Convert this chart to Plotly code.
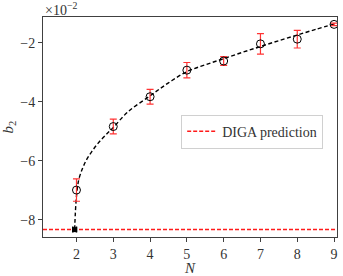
import plotly.graph_objects as go

# data (b2 in units of 1e-2)
N_vals = [2, 3, 4, 5, 6, 7, 8, 9]
b2_vals = [-6.99, -4.84, -3.83, -2.93, -2.62, -2.04, -1.88, -1.38]
b2_err = [0.38, 0.25, 0.25, 0.26, 0.15, 0.35, 0.30, 0.04]

fit_N = [1.95, 1.97, 2.0, 2.06, 2.16, 2.27, 2.42, 2.59, 2.8, 3.0, 3.4, 4.0, 4.5, 5.0, 5.5, 6.0, 6.5, 7.0, 7.5, 8.0, 8.5, 9.0]
fit_b2 = [-8.33, -7.75, -7.2, -6.65, -6.27, -5.97, -5.68, -5.40, -5.12, -4.87, -4.34, -3.80, -3.36, -2.98, -2.75, -2.54, -2.33, -2.13, -1.93, -1.74, -1.55, -1.37]

diga_N = [1.09, 9.08]
diga_val = -8.33
limit_N = [1.95]
limit_b2 = [-8.33]

FONT = "Liberation Serif"
AX = "#404040"
TXT = "#333333"

fig = go.Figure()
fig.add_trace(go.Scatter(x=diga_N, y=[diga_val] * len(diga_N), mode="lines",
                         line=dict(color="#ff1a1a", width=1.5, dash="4px,2px"),
                         name="DIGA prediction"))
fig.add_trace(go.Scatter(x=fit_N, y=fit_b2, mode="lines", line_shape="spline",
                         line=dict(color="black", width=1.4, dash="4px,2.5px"),
                         showlegend=False))
fig.add_trace(go.Scatter(x=N_vals, y=b2_vals, mode="markers",
                         marker=dict(symbol="circle-open", size=8, color="black",
                                     line=dict(width=1, color="black")),
                         error_y=dict(type="data", array=b2_err, color="#ff3333",
                                      thickness=1.2, width=3.5),
                         showlegend=False))
fig.add_trace(go.Scatter(x=limit_N, y=limit_b2, mode="markers",
                         marker=dict(symbol="square", size=5, color="black"),
                         error_x=dict(type="constant", value=0.05, color="black",
                                      thickness=1.5, width=3),
                         showlegend=False))

fig.update_layout(
    width=343, height=276,
    margin=dict(l=43, r=6, t=17, b=39, autoexpand=False),
    paper_bgcolor="white", plot_bgcolor="white",
    font=dict(family=FONT, size=14, color=TXT),
    showlegend=True,
    legend=dict(x=0.47, y=0.556, xanchor="left", yanchor="top",
                bgcolor="white", bordercolor="#d0d0d0", borderwidth=1,
                font=dict(family=FONT, size=14, color=TXT),
                itemwidth=30),
    xaxis=dict(range=[1.09, 9.08], tickmode="array",
               tickvals=[2, 3, 4, 5, 6, 7, 8, 9],
               ticks="outside", ticklen=4, tickcolor=AX,
               tickfont=dict(size=14, color=TXT),
               showline=True, linecolor=AX, linewidth=1, mirror=True,
               showgrid=False, zeroline=False, automargin=False,
               title=dict(text="<i>N</i>", standoff=1, font=dict(size=15, color=TXT))),
    yaxis=dict(range=[-8.58, -1.13], tickmode="array",
               tickvals=[-8, -6, -4, -2], ticktext=["\u22128", "\u22126", "\u22124", "\u22122"],
               ticks="outside", ticklen=4, tickcolor=AX,
               tickfont=dict(size=14, color=TXT),
               showline=True, linecolor=AX, linewidth=1, mirror=True,
               showgrid=False, zeroline=False, automargin=False,
               title=dict(text="<i>b</i><sub>2</sub>", standoff=4, font=dict(size=15, color=TXT))),
    annotations=[dict(text="\u00d710<sup>\u22122</sup>", xref="paper", yref="paper",
                      x=0, y=1, xanchor="left", yanchor="bottom", showarrow=False,
                      font=dict(family=FONT, size=14, color=TXT), yshift=-3)],
)

fig.write_html("out.html", config={"displayModeBar": False},
               post_script="document.body.style.margin='0';document.body.style.padding='0';document.body.style.overflow='hidden';")
